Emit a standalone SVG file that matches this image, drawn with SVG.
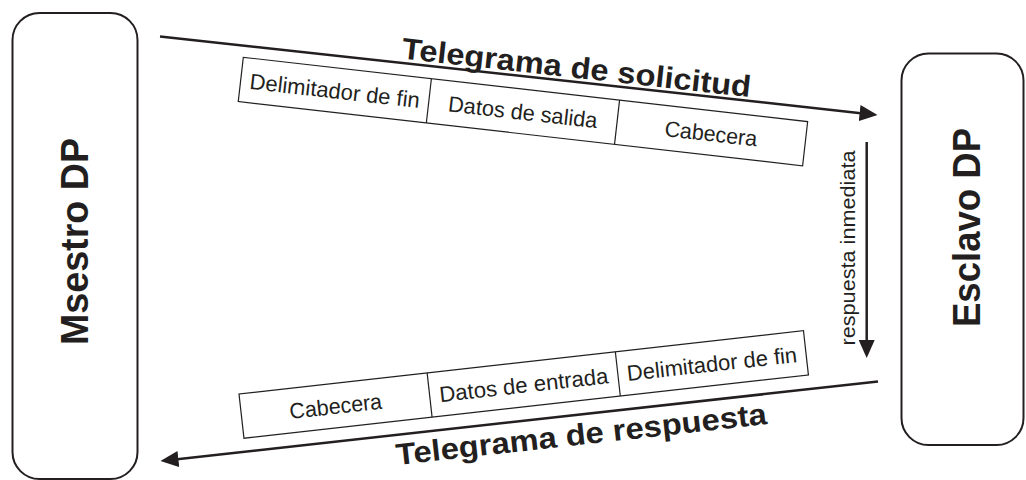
<svg xmlns="http://www.w3.org/2000/svg" width="1026" height="480" viewBox="0 0 1026 480">
  <style>
    .node { fill: #ffffff; stroke: #231f20; stroke-width: 2; }
    .cell { fill: #ffffff; stroke: #231f20; stroke-width: 1.2; }
    .div { stroke: #231f20; stroke-width: 1.2; }
    .conn { stroke: #231f20; stroke-width: 2.5; fill: none; }
    .big { font-family: "Liberation Sans", Arial, Helvetica, sans-serif; font-weight: bold; font-size: 38px; fill: #231f20; }
    .lbl { font-family: "Liberation Sans", Arial, Helvetica, sans-serif; font-weight: bold; font-size: 30px; fill: #231f20; }
    .cellt { font-family: "Liberation Sans", Arial, Helvetica, sans-serif; font-size: 22px; fill: #231f20; text-anchor: middle; }
    .small { font-family: "Liberation Sans", Arial, Helvetica, sans-serif; font-size: 21px; fill: #231f20; text-anchor: middle; }
  </style>
  <defs>
    <marker id="arrow" viewBox="0 0 18 16" refX="8" refY="8" markerWidth="18" markerHeight="16" markerUnits="userSpaceOnUse" orient="auto">
      <path d="M0,0 L18,8 L0,16 z" fill="#231f20"/>
    </marker>
  </defs>
  <rect width="1026" height="480" fill="#ffffff"/>

  <g id="maestro">
    <rect class="node" x="12.5" y="13" width="125" height="466" rx="27" ry="27"/>
    <text class="big" text-anchor="middle" transform="translate(88,241.5) rotate(-90)" textLength="207" lengthAdjust="spacingAndGlyphs">Msestro DP</text>
  </g>

  <g id="esclavo">
    <rect class="node" x="901.5" y="53.5" width="122" height="391.5" rx="27" ry="27"/>
    <text class="big" text-anchor="middle" transform="translate(980,227.5) rotate(-90)" textLength="199" lengthAdjust="spacingAndGlyphs">Esclavo DP</text>
  </g>

  <g id="connectors">
    <line class="conn" x1="160" y1="36.5" x2="867.6" y2="113.9" marker-end="url(#arrow)"/>
    <line class="conn" x1="878" y1="381.5" x2="170.4" y2="459.9" marker-end="url(#arrow)"/>
    <line class="conn" x1="866.7" y1="142" x2="866.7" y2="348" marker-end="url(#arrow)"/>
    <text class="lbl" transform="translate(401,58.5) rotate(6.3)" textLength="351" lengthAdjust="spacingAndGlyphs">Telegrama de solicitud</text>
    <text class="lbl" transform="translate(397,465) rotate(-6.3)" textLength="373" lengthAdjust="spacingAndGlyphs">Telegrama de respuesta</text>
    <text class="small" transform="translate(855,248) rotate(-90)" textLength="195" lengthAdjust="spacingAndGlyphs">respuesta inmediata</text>
  </g>

  <g id="paquete-solicitud" transform="translate(243.3,57.3) rotate(6.5)">
    <rect class="cell" x="0" y="0" width="568" height="44.5"/>
    <line class="div" x1="189.3" y1="0" x2="189.3" y2="44.5"/>
    <line class="div" x1="378.7" y1="0" x2="378.7" y2="44.5"/>
    <text class="cellt" x="94.7" y="30.5" textLength="171" lengthAdjust="spacingAndGlyphs">Delimitador de fin</text>
    <text class="cellt" x="284" y="30.5" textLength="150" lengthAdjust="spacingAndGlyphs">Datos de salida</text>
    <text class="cellt" x="473.3" y="30.5" textLength="93" lengthAdjust="spacingAndGlyphs">Cabecera</text>
  </g>

  <g id="paquete-respuesta" transform="translate(239,394) rotate(-6.4)">
    <rect class="cell" x="0" y="0" width="568" height="44.5"/>
    <line class="div" x1="189.3" y1="0" x2="189.3" y2="44.5"/>
    <line class="div" x1="378.7" y1="0" x2="378.7" y2="44.5"/>
    <text class="cellt" x="94.7" y="30.5" textLength="93" lengthAdjust="spacingAndGlyphs">Cabecera</text>
    <text class="cellt" x="284" y="30.5" textLength="170" lengthAdjust="spacingAndGlyphs">Datos de entrada</text>
    <text class="cellt" x="473.3" y="30.5" textLength="171" lengthAdjust="spacingAndGlyphs">Delimitador de fin</text>
  </g>
</svg>
